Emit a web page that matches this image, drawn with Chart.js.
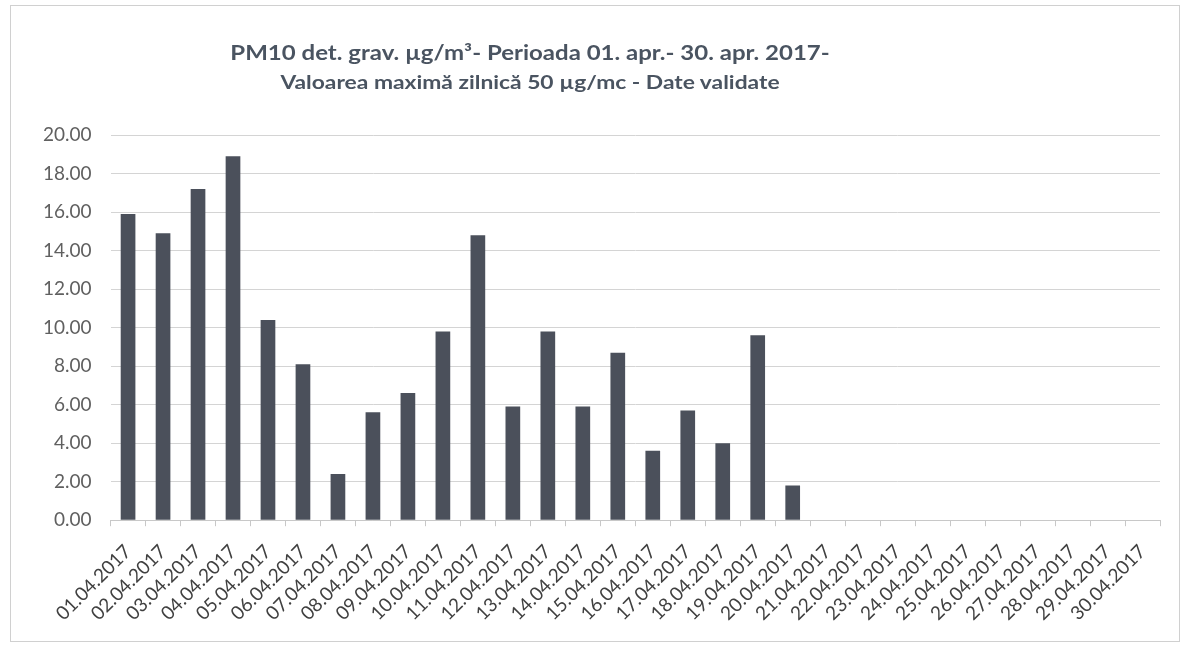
<!DOCTYPE html>
<html>
<head>
<meta charset="utf-8">
<script src="https://cdn.jsdelivr.net/npm/chart.js@4"></script>
<style>
  html, body { margin: 0; padding: 0; background: #fff; }
  #wrap { position: relative; width: 1189px; height: 651px; }
  #frame { position: absolute; left: 10px; top: 5px; width: 1170px; height: 637px; border: 1px solid #d0d0d0; box-sizing: border-box; }
  #title { position: absolute; left: 0; width: 1060px; top: 37px; text-align: center; color: #4a5461; font-family: Lato, "Open Sans", sans-serif; font-weight: bold; line-height: 30px; transform: scaleX(1.2); transform-origin: 530px 0; }
  #title .l1 { font-size: 20px; }
  #title .l2 { font-size: 19px; }
  canvas { position: absolute; left: 0; top: 0; }
</style>
</head>
<body>
<div id="wrap">
  <div id="frame"></div>
  <canvas id="pm10" width="1189" height="651"></canvas>
  <div id="title">
    <div class="l1">PM10 det. grav. µg/m³- Perioada 01. apr.- 30. apr. 2017-</div>
    <div class="l2">Valoarea maximă zilnică 50 µg/mc - Date validate</div>
  </div>
</div>
<script>
// zilele lunii aprilie 2017
const days = ["01.04.2017", "02.04.2017", "03.04.2017", "04.04.2017", "05.04.2017",
  "06.04.2017", "07.04.2017", "08.04.2017", "09.04.2017", "10.04.2017",
  "11.04.2017", "12.04.2017", "13.04.2017", "14.04.2017", "15.04.2017",
  "16.04.2017", "17.04.2017", "18.04.2017", "19.04.2017", "20.04.2017",
  "21.04.2017", "22.04.2017", "23.04.2017", "24.04.2017", "25.04.2017",
  "26.04.2017", "27.04.2017", "28.04.2017", "29.04.2017", "30.04.2017"];

// PM10 µg/m3 (fara date dupa 20.04)
const pm10 = [15.9, 14.9, 17.2, 18.9, 10.4, 8.1, 2.4, 5.6, 6.6, 9.8,
  14.8, 5.9, 9.8, 5.9, 8.7, 3.6, 5.7, 4.0, 9.6, 1.8,
  null, null, null, null, null, null, null, null, null, null];

const yMin = 0, yMax = 20, yStep = 2;

new Chart(document.getElementById("pm10"), {
    type: 'bar',
    data: {
        labels: days,
        datasets: [{
            label: "PM10",
            data: pm10,
            backgroundColor: "#4b505b",
            borderWidth: 0,
            categoryPercentage: 1.0,
            barPercentage: 0.42
        }]
    },
    options: {
        responsive: false,
        animation: false,
        layout: {
            padding: { left: 24, right: 29, top: 135, bottom: 12 }
        },
        plugins: {
            legend: { display: false },
            tooltip: { enabled: false }
        },
        scales: {
            x: {
                grid: {
                    display: true,
                    drawOnChartArea: false,
                    tickLength: 6,
                    color: "#c8c8c8"
                },
                border: { display: true, color: "#c8c8c8" },
                ticks: {
                    minRotation: 45,
                    maxRotation: 45,
                    autoSkip: false,
                    padding: 14,
                    color: "#404040",
                    font: { family: "Lato", size: 19 }
                }
            },
            y: {
                min: yMin,
                max: yMax,
                ticks: {
                    stepSize: yStep,
                    padding: 19,
                    color: "#606060",
                    font: { family: "Lato", size: 19 },
                    callback: v => v.toFixed(2)
                },
                grid: { color: "#d4d4d4", drawTicks: false },
                border: { display: false }
            }
        }
    }
});
</script>
</body>
</html>
